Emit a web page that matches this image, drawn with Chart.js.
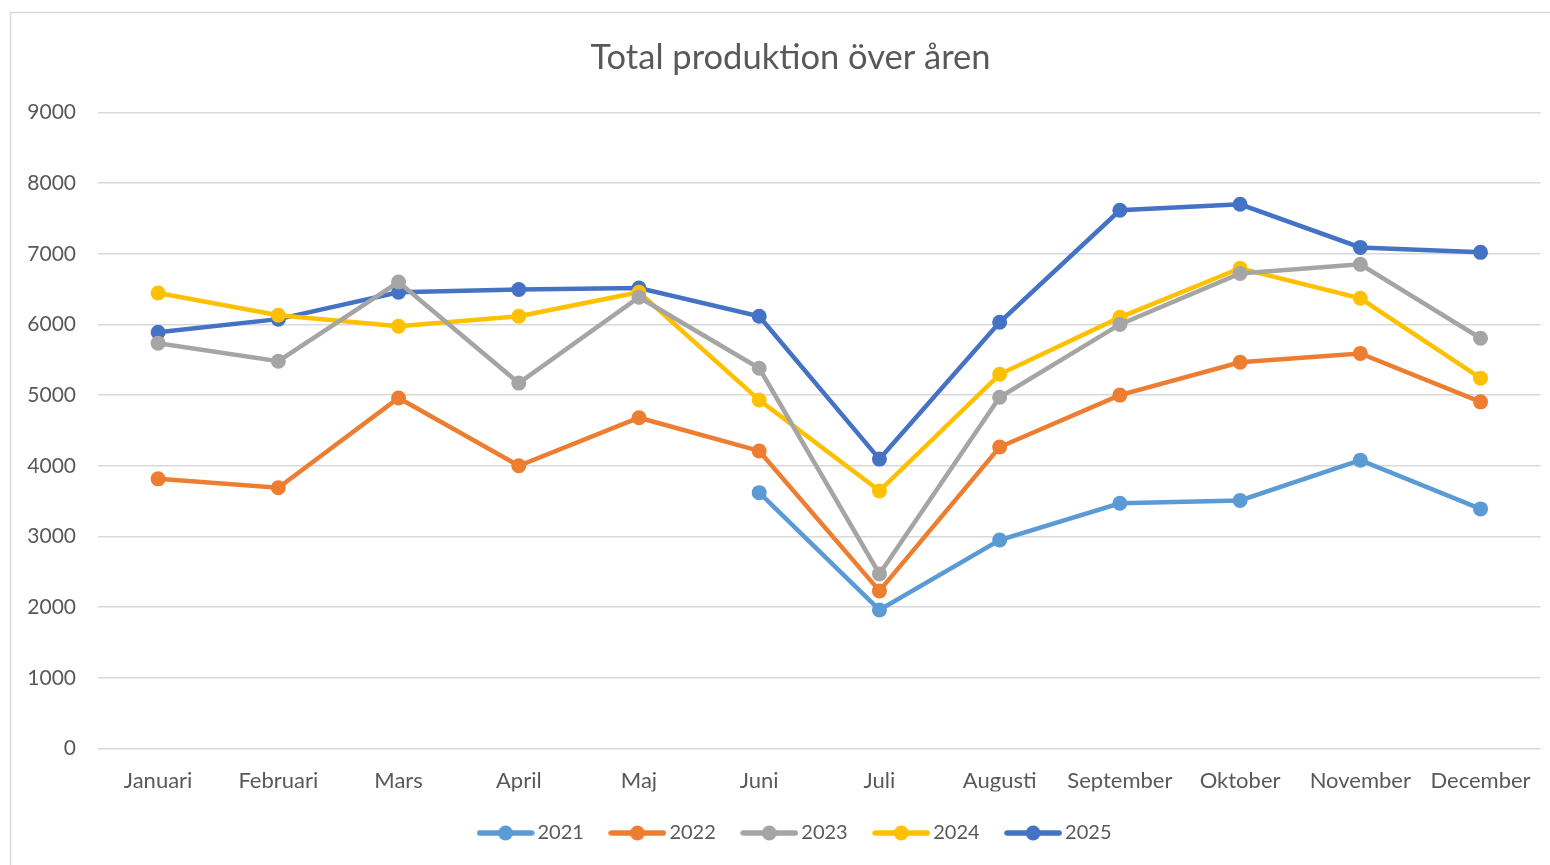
<!DOCTYPE html>
<html lang="sv">
<head>
<meta charset="utf-8">
<title>Total produktion över åren</title>
<script src="https://cdn.jsdelivr.net/npm/chart.js@4.4.1/dist/chart.umd.min.js"></script>
<style>
  html, body { margin: 0; padding: 0; background: #ffffff; overflow: hidden; }
  #chart { display: block; }
</style>
</head>
<body>
<canvas id="chart" width="1550" height="865"></canvas>
<script>
// ----------------------------
// Data
// ----------------------------
const months = ['Januari', 'Februari', 'Mars', 'April', 'Maj', 'Juni',
  'Juli', 'Augusti', 'September', 'Oktober', 'November', 'December'];
const yTicks = [0, 1000, 2000, 3000, 4000, 5000, 6000, 7000, 8000, 9000];

const years = ['2021', '2022', '2023', '2024', '2025'];
const prod2021 = [null, null, null, null, null, 3620, 1960, 2950, 3470, 3510, 4080, 3390];
const prod2022 = [3815, 3690, 4960, 4000, 4680, 4210, 2230, 4265, 5000, 5465, 5590, 4905];
const prod2023 = [5735, 5480, 6600, 5170, 6385, 5380, 2470, 4970, 6000, 6720, 6850, 5805];
const prod2024 = [6445, 6130, 5975, 6115, 6455, 4930, 3645, 5295, 6100, 6795, 6370, 5240];
const prod2025 = [5890, 6075, 6455, 6495, 6515, 6115, 4095, 6030, 7615, 7700, 7090, 7020];

// ----------------------------
// Styling
// ----------------------------
const COLORS = ['#5B9BD5', '#ED7D31', '#A5A5A5', '#FFC000', '#4472C4'];
const TEXT = '#595959';
const GRID = '#d9d9d9';
const FONT = 'Lato';
// title and legend are centred on the whole frame, which runs past the window
const TITLE_SHIFT = 20;
const LEGEND_SHIFT = 27;

Chart.defaults.font.family = FONT;
Chart.defaults.color = TEXT;

// legend marker: short line with a dot, like the office style
const legendMarker = (color) => {
  const c = document.createElement('canvas');
  c.width = 58; c.height = 18;
  const g = c.getContext('2d');
  g.strokeStyle = color;
  g.lineWidth = 5.5;
  g.lineCap = 'round';
  g.beginPath(); g.moveTo(3, 9); g.lineTo(55, 9); g.stroke();
  g.fillStyle = color;
  g.beginPath(); g.arc(29, 9, 7.4, 0, Math.PI * 2); g.fill();
  return c;
};
const markers = COLORS.map(legendMarker);

const series = [prod2021, prod2022, prod2023, prod2024, prod2025];
const datasets = series.map((data, i) => ({
  label: years[i],
  data,
  borderColor: COLORS[i],
  backgroundColor: COLORS[i],
  borderWidth: 4.5,
  pointRadius: 7.5,
  pointBorderWidth: 0,
  pointHoverRadius: 7.5,
  tension: 0,
  spanGaps: false
}));

// outer chart frame (continues past the window edge)
const framePlugin = {
  id: 'frame',
  beforeDraw(chart) {
    const ctx = chart.ctx;
    ctx.save();
    ctx.fillStyle = '#ffffff';
    ctx.fillRect(0, 0, chart.width, chart.height);
    ctx.strokeStyle = GRID;
    ctx.lineWidth = 1.5;
    ctx.strokeRect(10.5, 12.5, 3000, 3000);
    ctx.restore();
  }
};

const shiftPlugin = {
  id: 'shiftBoxes',
  afterLayout(chart) {
    if (chart.titleBlock) { chart.titleBlock.left += TITLE_SHIFT; chart.titleBlock.right += TITLE_SHIFT; }
    if (chart.legend) { chart.legend.left += LEGEND_SHIFT; chart.legend.right += LEGEND_SHIFT; }
  }
};

new Chart(document.getElementById('chart').getContext('2d'), {
  type: 'line',
  data: { labels: months, datasets },
  plugins: [framePlugin, shiftPlugin],
  options: {
    responsive: false,
    animation: false,
    layout: { padding: { left: 0, right: 9, top: 0, bottom: 12 } },
    plugins: {
      title: {
        display: true,
        text: 'Total produktion över åren',
        color: TEXT,
        font: { size: 34.5, weight: 'normal', family: FONT },
        padding: { top: 37, bottom: 34 }
      },
      legend: {
        position: 'bottom',
        labels: {
          usePointStyle: true,
          pointStyleWidth: 44,
          color: TEXT,
          font: { size: 20, family: FONT },
          padding: 31.5,
          generateLabels: (chart) =>
            Chart.defaults.plugins.legend.labels.generateLabels(chart).map((item, i) => ({
              ...item,
              pointStyle: markers[i]
            }))
        }
      },
      tooltip: { enabled: false }
    },
    scales: {
      x: {
        offset: true,
        grid: { display: false, drawTicks: false },
        border: { display: false },
        ticks: { color: TEXT, font: { size: 22 }, padding: 19, maxRotation: 0, autoSkip: false },
        afterFit: (scale) => { scale.height = 43; }
      },
      y: {
        min: 0,
        max: 9000,
        afterBuildTicks: (scale) => { scale.ticks = yTicks.map(v => ({ value: v })); },
        grid: { color: GRID, lineWidth: 1.5, drawTicks: false },
        border: { display: false },
        ticks: { color: TEXT, font: { size: 21 }, padding: 22, callback: (v) => String(v) },
        afterFit: (scale) => { scale.width = 98; }
      }
    }
  }
});
</script>
</body>
</html>
